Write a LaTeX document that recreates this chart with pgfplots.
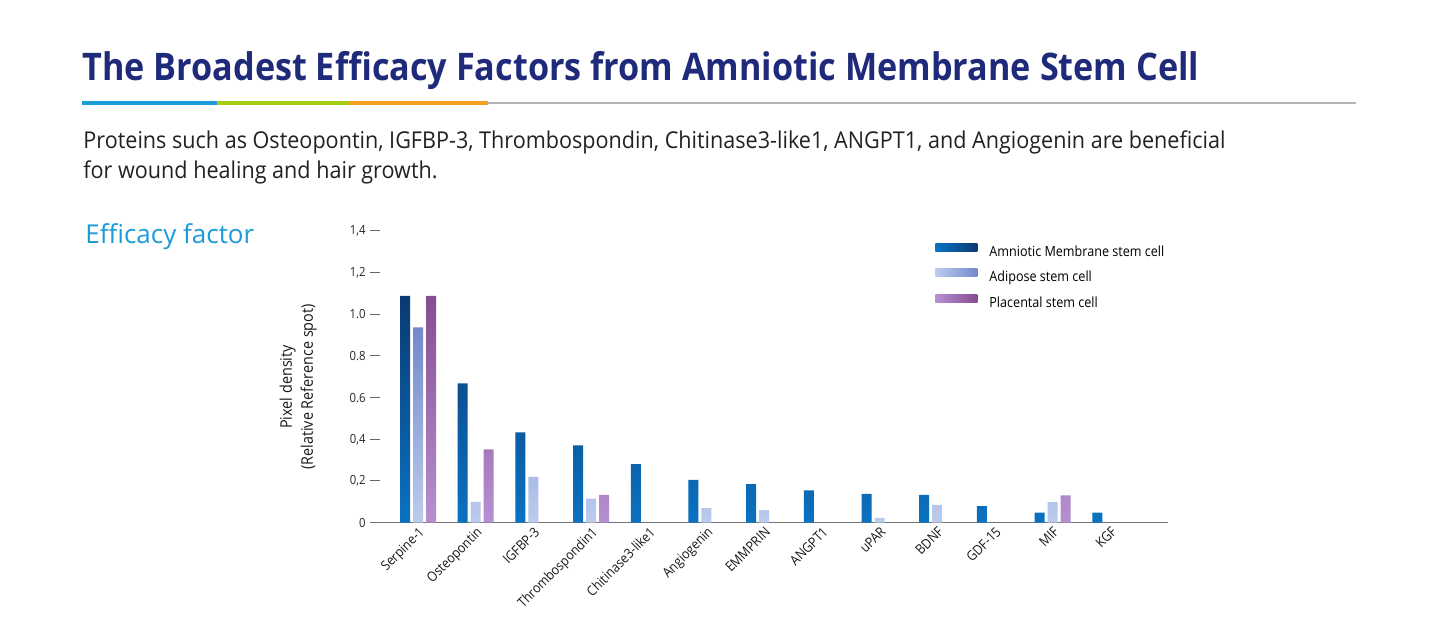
\documentclass[border=0pt]{standalone}
\usepackage{pgfplots}
\usepackage{pgfplotstable}
\pgfplotsset{compat=1.18}
\usepackage{fontspec}
\setmainfont{Open Sans}[FakeStretch=0.9]
\newfontfamily\titlefont{Open Sans}[FakeStretch=0.9]
\newfontfamily\bodyfont{Open Sans}[FakeStretch=0.93]
\newfontfamily\headfont{Open Sans}

\definecolor{titleblue}{HTML}{1F2A7A}
\definecolor{effblue}{HTML}{1B9BD8}
\definecolor{rulegreen}{HTML}{A8CC10}
\definecolor{ruleorange}{HTML}{F7A01E}
\definecolor{rulegray}{HTML}{B5B5B5}
\definecolor{amTop}{HTML}{0B3A72}
\definecolor{amBot}{HTML}{0A72C2}
\definecolor{adTop}{HTML}{7388CC}
\definecolor{adBot}{HTML}{BCCCEE}
\definecolor{plTop}{HTML}{874C92}
\definecolor{plBot}{HTML}{B690D2}
\definecolor{txt}{HTML}{222222}

\pgfplotstableread{
x am ad pl
0 1.087 0.937 1.087
1 0.668 0.100 0.352
2 0.433 0.220 nan
3 0.371 0.115 0.133
4 0.281 nan nan
5 0.205 0.070 nan
6 0.185 0.060 nan
7 0.155 nan nan
8 0.138 0.023 nan
9 0.133 0.086 nan
10 0.080 nan nan
11 0.048 0.099 0.131
12 0.048 nan nan
}\datatable

\begin{document}
\begin{tikzpicture}[x=0.5pt,y=-0.5pt]
\path[fill=white] (0,0) rectangle (1445,632);
% header
\node[anchor=base west, inner sep=0pt, text=titleblue, font=\titlefont\bfseries\fontsize{19}{22}\selectfont] at (82,80) {The Broadest Efficacy Factors from Amniotic Membrane Stem Cell};
\draw[rulegray, line width=1pt] (488,103) -- (1356,103);
\draw[effblue, line width=2.2pt] (82,103) -- (217,103);
\draw[rulegreen, line width=2.2pt] (217,103) -- (350,103);
\draw[ruleorange, line width=2.2pt] (350,103) -- (488,103);
\node[anchor=base west, inner sep=0pt, text=txt, font=\bodyfont\fontsize{11.6}{13}\selectfont] at (83,148) {Proteins such as Osteopontin, IGFBP-3, Thrombospondin, Chitinase3-like1, ANGPT1, and Angiogenin are beneficial};
\node[anchor=base west, inner sep=0pt, text=txt, font=\bodyfont\fontsize{11.6}{13}\selectfont] at (83,178) {for wound healing and hair growth.};
\node[anchor=base west, inner sep=0pt, text=effblue, font=\headfont\fontsize{13}{15}\selectfont] at (85,243) {Efficacy factor};

\begin{axis}[
  at={(185pt,-261.35pt)}, anchor=south west,
  scale only axis, width=399pt, height=146pt,
  xmin=-0.832, xmax=13.0, ymin=0, ymax=1.4,
  ybar=1.5pt, bar width=5pt,
  axis x line*=bottom, axis y line*=left,
  y axis line style={draw=none},
  x axis line style={draw=black!55, line width=0.7pt},
  tick align=inside,
  major tick length=5pt,
  xtick={0,1,2,3,4,5,6,7,8,9,10,11,12},
  xticklabels={Serpine-1,Osteopontin,IGFBP-3,Thrombospondin1,Chitinase3-like1,Angiogenin,EMMPRIN,ANGPT1,uPAR,BDNF,GDF-15,MIF,KGF},
  xtick style={draw=none},
  ytick={0,0.2,0.4,0.6,0.8,1.0,1.2,1.4},
  yticklabels={0,{0,2},{0,4},0.6,0.8,1.0,{1,2},{1,4}},
  ytick style={draw=black!60, line width=0.5pt},
  yticklabel style={font=\fontsize{6.3}{7}\selectfont, text=black!85, inner sep=2pt},
  xticklabel style={rotate=45, anchor=north east, font=\fontsize{6.8}{7}\selectfont, text=black!90, inner sep=1pt},
  ylabel={Pixel density\\(Relative Reference spot)},
  ylabel style={align=center, font=\fontsize{8}{10.5}\selectfont, text=black!90, at={(axis description cs:-0.090,0.465)}, anchor=center},
  legend style={at={(0.7005,0.971)}, anchor=north west, draw=none, fill=none,
    font=\fontsize{7}{8}\selectfont, row sep=5pt, column sep=6pt,
    nodes={inner sep=0pt, text height=5pt, text depth=1.2pt}},
  legend cell align=left,
  clip=false,
]
\addplot[draw=none, top color=amTop, bottom color=amBot,
  legend image code/.code={\shade[left color=amBot, right color=amTop] (0pt,0.6pt) rectangle (21pt,4.6pt);}]
  table[x=x, y=am] {\datatable};
\addlegendentry{Amniotic Membrane stem cell}
\addplot[draw=none, top color=adTop, bottom color=adBot,
  legend image code/.code={\shade[left color=adBot, right color=adTop] (0pt,0.6pt) rectangle (21pt,4.6pt);}]
  table[x=x, y=ad] {\datatable};
\addlegendentry{Adipose stem cell}
\addplot[draw=none, top color=plTop, bottom color=plBot,
  legend image code/.code={\shade[left color=plBot, right color=plTop] (0pt,0.6pt) rectangle (21pt,4.6pt);}]
  table[x=x, y=pl] {\datatable};
\addlegendentry{Placental stem cell}
\end{axis}
\end{tikzpicture}
\end{document}
